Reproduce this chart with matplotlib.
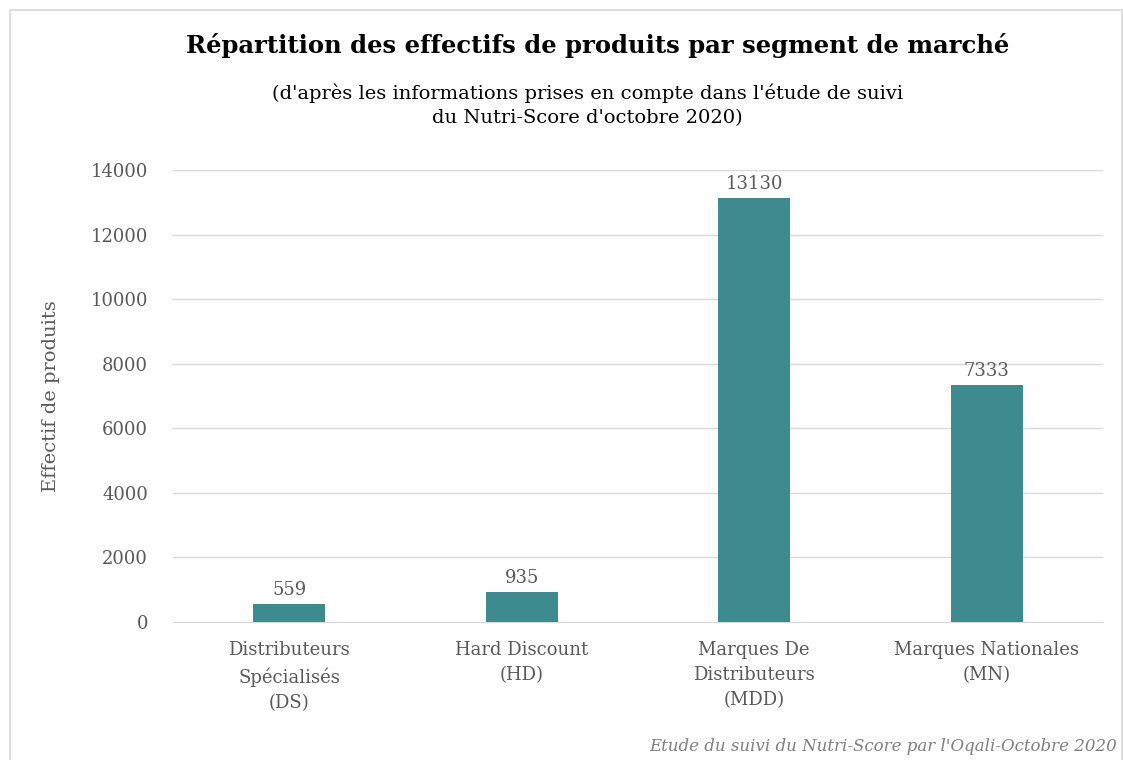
import matplotlib.pyplot as plt
from matplotlib.patches import Rectangle

# Data
categories = ["Distributeurs\nSpécialisés\n(DS)", "Hard Discount\n(HD)",
              "Marques De\nDistributeurs\n(MDD)", "Marques Nationales\n(MN)"]
effectifs = [559, 935, 13130, 7333]

bar_color = "#3d8b8f"
text_color = "#595959"
grid_color = "#d9d9d9"

plt.rcParams['font.family'] = ['DejaVu Serif']

fig = plt.figure(figsize=(11.23, 7.6), dpi=100)
ax = fig.add_axes([0.154, 0.1816, 0.828, 0.5947])

# Light frame around the chart
fig.patches.append(Rectangle((0.009, -0.01), 0.99, 0.997, transform=fig.transFigure,
                             fill=False, edgecolor="#d9d9d9", linewidth=1.2))

x = range(len(categories))
bars = ax.bar(x, effectifs, width=0.31, color=bar_color, zorder=3)

# Value labels
for bar in bars:
    h = bar.get_height()
    ax.text(bar.get_x() + bar.get_width() / 2, h + 150, f"{h:.0f}",
            ha="center", va="bottom", fontsize=13, color=text_color)

ax.set_xlim(-0.5, 3.5)
ax.set_ylim(0, 14000)
ax.set_yticks(range(0, 14001, 2000))
ax.set_xticks(list(x))
ax.set_xticklabels(categories, fontsize=13, color=text_color, linespacing=1.5)
ax.tick_params(axis="y", labelsize=13, labelcolor=text_color, length=0, pad=18)
ax.tick_params(axis="x", length=0, pad=14)
ax.grid(axis="y", color=grid_color, linewidth=1, zorder=0)
for s in ["top", "right", "left"]:
    ax.spines[s].set_visible(False)
ax.spines["bottom"].set_color(grid_color)

ax.set_ylabel("Effectif de produits", fontsize=14, color=text_color, labelpad=22)

fig.text(0.532, 0.94, "Répartition des effectifs de produits par segment de marché",
         ha="center", va="center", fontsize=17.5, fontweight="bold", color="black")
fig.text(0.523, 0.861, "(d'après les informations prises en compte dans l'étude de suivi\ndu Nutri-Score d'octobre 2020)",
         ha="center", va="center", fontsize=14, color="black", linespacing=1.45)
fig.text(0.995, 0.006, "Etude du suivi du Nutri-Score par l'Oqali-Octobre 2020",
         ha="right", va="bottom", fontsize=12, style="italic", color="#7f7f7f")

fig.savefig("out.png", dpi=100)
